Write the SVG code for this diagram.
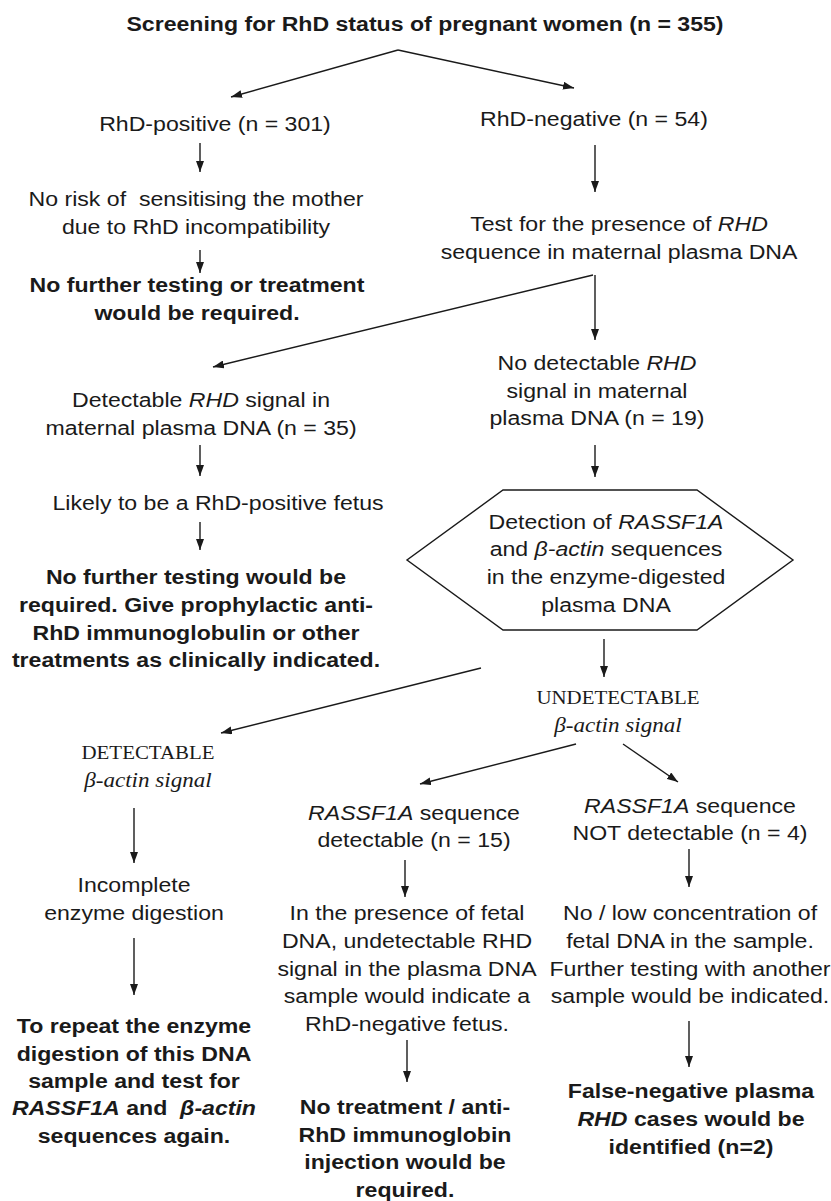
<svg xmlns="http://www.w3.org/2000/svg" width="831" height="1201" viewBox="0 0 831 1201">
<style>
.t{font-family:"Liberation Sans",Arial,sans-serif;font-size:21px;fill:#1a1a1a;text-anchor:middle}
.b{font-weight:bold}
.i{font-style:italic}
.s{font-family:"Liberation Serif","Times New Roman",serif}
.ln{stroke:#1a1a1a;stroke-width:1.4;fill:none}
</style>
<defs>
<marker id="ah" markerUnits="userSpaceOnUse" markerWidth="11" markerHeight="8" refX="11" refY="4" orient="auto">
<path d="M0,0 L11,4 L0,8 Z" fill="#1a1a1a"/>
</marker>
</defs>
<rect width="831" height="1201" fill="#ffffff"/>

<g id="connectors" class="ln" marker-end="url(#ah)">
<line x1="398" y1="50" x2="231" y2="97"/>
<line x1="398" y1="50" x2="574" y2="88"/>
<line x1="200" y1="143" x2="200" y2="172"/>
<line x1="595" y1="145" x2="595" y2="192"/>
<line x1="200" y1="250" x2="200" y2="273"/>
<line x1="593" y1="275" x2="213" y2="367"/>
<line x1="595" y1="275" x2="595" y2="340"/>
<line x1="200" y1="445" x2="200" y2="476"/>
<line x1="595" y1="445" x2="595" y2="477"/>
<line x1="200" y1="522" x2="200" y2="550"/>
<line x1="604" y1="639" x2="604" y2="677"/>
<line x1="481" y1="668" x2="221" y2="733"/>
<line x1="576" y1="744" x2="420" y2="784"/>
<line x1="623" y1="744" x2="678" y2="782"/>
<line x1="134" y1="808" x2="134" y2="863"/>
<line x1="405" y1="860" x2="405" y2="897"/>
<line x1="689" y1="849" x2="689" y2="887"/>
<line x1="134" y1="938" x2="134" y2="995"/>
<line x1="407" y1="1040" x2="407" y2="1082"/>
<line x1="689" y1="1021" x2="689" y2="1067"/>
</g>

<g id="title" class="t b" transform="translate(425,0) scale(1.1,1)">
<text x="0" y="31">Screening for RhD status of pregnant women (n = 355)</text>
</g>

<g id="rhd-positive" class="t" transform="translate(215,0) scale(1.1,1)">
<text x="0" y="131">RhD-positive (n = 301)</text>
</g>

<g id="rhd-negative" class="t" transform="translate(594,0) scale(1.1,1)">
<text x="0" y="126">RhD-negative (n = 54)</text>
</g>

<g id="no-risk" class="t" transform="translate(196,0) scale(1.1,1)">
<text x="0" y="206" xml:space="preserve">No risk of  sensitising the mother</text>
<text x="0" y="234">due to RhD incompatibility</text>
</g>

<g id="no-further-1" class="t b" transform="translate(197,0) scale(1.1,1)">
<text x="0" y="292">No further testing or treatment</text>
<text x="0" y="320">would be required.</text>
</g>

<g id="test-rhd" class="t" transform="translate(619,0) scale(1.1,1)">
<text x="0" y="231">Test for the presence of <tspan class="i">RHD</tspan></text>
<text x="0" y="259">sequence in maternal plasma DNA</text>
</g>

<g id="detectable-rhd" class="t" transform="translate(201,0) scale(1.1,1)">
<text x="0" y="407">Detectable <tspan class="i">RHD</tspan> signal in</text>
<text x="0" y="435">maternal plasma DNA (n = 35)</text>
</g>

<g id="no-detectable-rhd" class="t" transform="translate(597,0) scale(1.1,1)">
<text x="0" y="370">No detectable <tspan class="i">RHD</tspan></text>
<text x="0" y="398">signal in maternal</text>
<text x="0" y="425">plasma DNA (n = 19)</text>
</g>

<g id="likely-positive" class="t" transform="translate(218,0) scale(1.1,1)">
<text x="0" y="510">Likely to be a RhD-positive fetus</text>
</g>

<g id="prophylactic" class="t b" transform="translate(196,0) scale(1.1,1)">
<text x="0" y="584">No further testing would be</text>
<text x="0" y="612">required. Give prophylactic anti-</text>
<text x="0" y="640">RhD immunoglobulin or other</text>
<text x="0" y="667">treatments as clinically indicated.</text>
</g>

<g id="detection-hexagon">
<polygon class="ln" points="503,490 697,490 793,560 697,630 503,630 407,560"/>
<g class="t" transform="translate(606,0) scale(1.1,1)">
<text x="0" y="529">Detection of <tspan class="i">RASSF1A</tspan></text>
<text x="0" y="556">and <tspan class="i">β-actin</tspan> sequences</text>
<text x="0" y="584">in the enzyme-digested</text>
<text x="0" y="612">plasma DNA</text>
</g>
</g>

<g id="undetectable-actin" class="t s" transform="translate(618,0) scale(1.1,1)">
<text x="0" y="704" font-size="19">UNDETECTABLE</text>
<text x="0" y="732" class="i">β-actin signal</text>
</g>

<g id="detectable-actin" class="t s" transform="translate(148,0) scale(1.1,1)">
<text x="0" y="759" font-size="19">DETECTABLE</text>
<text x="0" y="787" class="i">β-actin signal</text>
</g>

<g id="rassf1a-detectable" class="t" transform="translate(414,0) scale(1.1,1)">
<text x="0" y="820"><tspan class="i">RASSF1A</tspan> sequence</text>
<text x="0" y="847">detectable (n = 15)</text>
</g>

<g id="rassf1a-not-detectable" class="t" transform="translate(690,0) scale(1.1,1)">
<text x="0" y="813"><tspan class="i">RASSF1A</tspan> sequence</text>
<text x="0" y="840">NOT detectable (n = 4)</text>
</g>

<g id="incomplete" class="t" transform="translate(134,0) scale(1.1,1)">
<text x="0" y="892">Incomplete</text>
<text x="0" y="920">enzyme digestion</text>
</g>

<g id="repeat" class="t b" transform="translate(134,0) scale(1.1,1)">
<text x="0" y="1033">To repeat the enzyme</text>
<text x="0" y="1061">digestion of this DNA</text>
<text x="0" y="1088">sample and test for</text>
<text x="0" y="1115" xml:space="preserve"><tspan class="i">RASSF1A</tspan> and  <tspan class="i">β-actin</tspan></text>
<text x="0" y="1143">sequences again.</text>
</g>

<g id="fetal-presence" class="t" transform="translate(407,0) scale(1.1,1)">
<text x="0" y="920">In the presence of fetal</text>
<text x="0" y="948">DNA, undetectable RHD</text>
<text x="0" y="976">signal in the plasma DNA</text>
<text x="0" y="1003">sample would indicate a</text>
<text x="0" y="1031">RhD-negative fetus.</text>
</g>

<g id="no-treatment" class="t b" transform="translate(405,0) scale(1.1,1)">
<text x="0" y="1114">No treatment / anti-</text>
<text x="0" y="1142">RhD immunoglobin</text>
<text x="0" y="1169">injection would be</text>
<text x="0" y="1197">required.</text>
</g>

<g id="low-concentration" class="t" transform="translate(690,0) scale(1.1,1)">
<text x="0" y="920">No / low concentration of</text>
<text x="0" y="948">fetal DNA in the sample.</text>
<text x="0" y="976">Further testing with another</text>
<text x="0" y="1003">sample would be indicated.</text>
</g>

<g id="false-negative" class="t b" transform="translate(691,0) scale(1.1,1)">
<text x="0" y="1098">False-negative plasma</text>
<text x="0" y="1126"><tspan class="i">RHD</tspan> cases would be</text>
<text x="0" y="1154">identified (n=2)</text>
</g>
</svg>
